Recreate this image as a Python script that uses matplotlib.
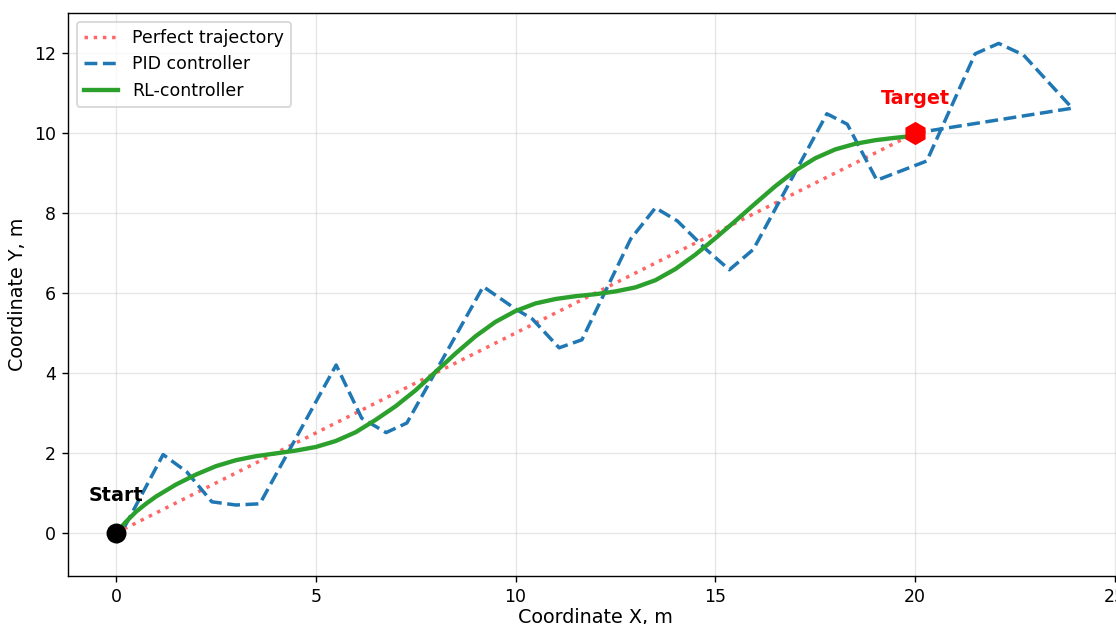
import numpy as np
import matplotlib
matplotlib.use("Agg")
import matplotlib.pyplot as plt

# perfect straight path from start to target
perfect_x = [0, 20]
perfect_y = [0, 10]

# PID controller path (vertices)
pid_x = [0, 1.18, 1.77, 2.4, 3.0, 3.6, 5.51, 6.15, 6.76, 7.28, 9.19, 10.0, 10.42,
         11.09, 11.66, 12.88, 13.5, 14.05, 14.78, 15.35, 15.95, 17.79, 18.3, 19.04,
         20.29, 21.5, 22.09, 22.71, 23.93, 20.0]
pid_y = [-0.25, 1.96, 1.53, 0.78, 0.7, 0.73, 4.2, 2.87, 2.51, 2.75, 6.16, 5.6, 5.35,
         4.63, 4.83, 7.35, 8.13, 7.8, 7.08, 6.58, 7.09, 10.48, 10.22, 8.82,
         9.3, 11.98, 12.24, 11.95, 10.62, 10.0]

# RL controller path
rl_x = [0, 0.25, 0.5, 0.75, 1.0, 1.5, 2.0, 2.5, 3.0, 3.5, 4.0, 4.5, 5.0, 5.5, 6.0,
        6.5, 7.0, 7.5, 8.0, 8.5, 9.0, 9.5, 10.0, 10.5, 11.0, 11.5, 12.0, 12.5, 13.0,
        13.5, 14.0, 14.5, 15.0, 15.5, 16.0, 16.5, 17.0, 17.5, 18.0, 18.5, 19.0, 19.5,
        20.0]
rl_y = [0, 0.28, 0.53, 0.73, 0.91, 1.21, 1.46, 1.67, 1.82, 1.92, 1.99, 2.06, 2.15,
        2.3, 2.52, 2.83, 3.17, 3.57, 4.03, 4.49, 4.92, 5.28, 5.55, 5.74, 5.85, 5.92,
        5.97, 6.04, 6.14, 6.32, 6.6, 6.96, 7.37, 7.8, 8.24, 8.67, 9.06, 9.37, 9.59,
        9.73, 9.82, 9.88, 9.93]

start = (0, 0)
target = (20, 10)

fig = plt.figure(figsize=(1116 / 125, 624 / 125), dpi=125)
# the reference is a crop, axes run past the right edge
ax = fig.add_axes([68 / 1116, 48 / 624, 1055 / 1116, 563 / 624])

ax.plot(perfect_x, perfect_y, ':', color='red', alpha=0.6, linewidth=2,
        label='Perfect trajectory')
ax.plot(pid_x, pid_y, '--', color='#1f77b4', linewidth=2, label='PID controller')
ax.plot(rl_x, rl_y, '-', color='#2ca02c', linewidth=2.5, label='RL-controller',
        solid_joinstyle='round')

ax.scatter([start[0]], [start[1]], s=110, color='black', zorder=5)
ax.scatter([target[0]], [target[1]], s=150, color='red', marker='h', zorder=5)
ax.text(start[0], 0.8, 'Start', ha='center', va='baseline', fontsize=11,
        fontweight='bold', color='black')
ax.text(target[0], 10.72, 'Target', ha='center', va='baseline', fontsize=11,
        fontweight='bold', color='red')

ax.set_xlim(-1.2, 25.2)
ax.set_ylim(-1.075, 13)
ax.set_xticks([0, 5, 10, 15, 20, 25])
ax.set_yticks([0, 2, 4, 6, 8, 10, 12])
ax.set_xlabel('Coordinate X, m', fontsize=11, labelpad=1)
ax.set_ylabel('Coordinate Y, m', fontsize=11)
ax.grid(True, alpha=0.3)
ax.legend(loc='upper left')

fig.savefig('out.png', dpi=125)
